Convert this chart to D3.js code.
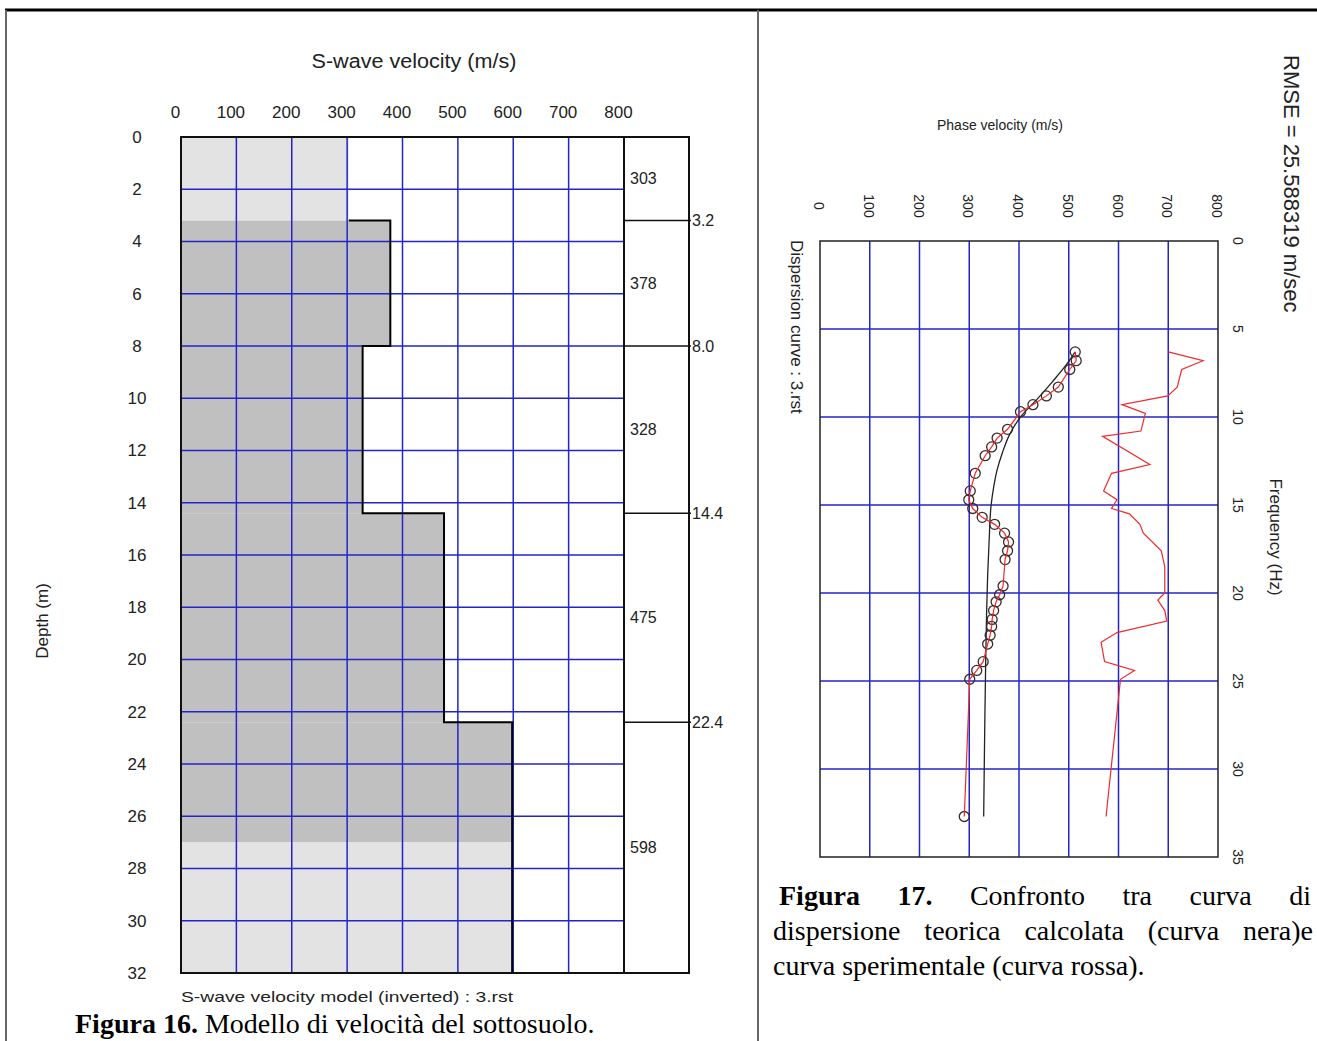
<!DOCTYPE html>
<html>
<head>
<meta charset="utf-8">
<script src="https://cdn.jsdelivr.net/npm/d3@7"></script>
<style>
  body { margin: 0; background: #fff; }
  svg { display: block; }
  .sans { font-family: "Liberation Sans", Arial, sans-serif; fill: #222; }
  .serif { font-family: "Liberation Serif", "Times New Roman", serif; fill: #000; }
</style>
</head>
<body>
<div id="chart"></div>
<script>
// ---------------------------//
//   DATA                     //
// ---------------------------//
// left chart: layered S-wave model
var layerTop = [0, 3.2, 8.0, 14.4, 22.4];
var layerVs = [303, 378, 328, 475, 598];
var maxDepth = 32;
var boundaryLabels = ["3.2", "8.0", "14.4", "22.4"];
var reliableTop = 3.2, reliableBottom = 27.0;   // dark shaded band
var velTicks = [0, 100, 200, 300, 400, 500, 600, 700, 800];
var depthTicks = [0, 2, 4, 6, 8, 10, 12, 14, 16, 18, 20, 22, 24, 26, 28, 30, 32];

// right chart: dispersion curves
var freqTicks = [0, 5, 10, 15, 20, 25, 30, 35];
var phaseTicks = [0, 100, 200, 300, 400, 500, 600, 700, 800];
var expFreq = [6.3, 6.8, 7.3, 8.3, 8.8, 9.3, 9.7, 10.7, 11.2, 11.7, 12.2, 13.2, 14.2, 14.7, 15.2, 15.7, 16.1, 16.6, 17.1, 17.6, 18.1, 19.6, 20.1, 20.5, 21.0, 21.5, 21.9, 22.4, 22.9, 23.9, 24.4, 24.9, 32.7];
var expVel = [513, 515, 502, 479, 455, 428, 403, 377, 356, 345, 332, 312, 302, 299, 307, 326, 351, 371, 379, 377, 372, 368, 361, 354, 349, 346, 345, 342, 337, 328, 315, 301, 290];
var theoFreq = [6.3, 7.0, 8.0, 9.0, 10.0, 11.0, 12.0, 13.0, 14.0, 15.0, 17.0, 19.0, 21.0, 24.0, 28.0, 32.7];
var theoVel = [513, 496, 467, 436, 403, 381, 367, 356, 349, 344, 340, 337, 335, 333, 331, 329];
var thirdFreq = [6.3, 6.8, 7.3, 8.3, 8.8, 9.3, 9.8, 10.8, 11.1, 12.7, 13.2, 14.2, 14.7, 15.2, 15.5, 16.1, 16.6, 17.6, 18.5, 20.0, 20.4, 21.0, 21.6, 22.25, 22.8, 23.9, 24.4, 24.9, 32.7];
var thirdVel = [700, 770, 727, 718, 699, 607, 654, 645, 568, 663, 586, 570, 597, 586, 622, 643, 650, 686, 693, 693, 679, 693, 697, 597, 565, 572, 632, 604, 575];

var gridBlue = "#2424c8";
var redLine = "#ee2a2a";

var svg = d3.select("#chart")
  .append("svg")
  .attr("width", 1317)
  .attr("height", 1041);

// page frame
svg.append("line").attr("x1", 5).attr("x2", 1317).attr("y1", 10).attr("y2", 10)
  .attr("stroke", "#000").attr("stroke-width", 3);
svg.append("line").attr("x1", 6).attr("x2", 6).attr("y1", 10).attr("y2", 1041)
  .attr("stroke", "#666").attr("stroke-width", 2);
svg.append("line").attr("x1", 758).attr("x2", 758).attr("y1", 10).attr("y2", 1041)
  .attr("stroke", "#666").attr("stroke-width", 2);

// ---------------------------//
//   LEFT: VELOCITY MODEL     //
// ---------------------------//
var x = d3.scaleLinear().domain([0, 800]).range([181, 624]);
var y = d3.scaleLinear().domain([0, maxDepth]).range([137, 973]);
var colLeft = 624, colRight = 689;

var left = svg.append("g");

// shading of the profile, one rect per layer and band
var layers = layerTop.map(function (t, i) {
  return { top: t, bottom: i < layerTop.length - 1 ? layerTop[i + 1] : maxDepth, vs: layerVs[i] };
});
var pieces = [];
layers.forEach(function (l) {
  var cuts = [l.top, l.bottom, reliableTop, reliableBottom]
    .filter(function (c) { return c >= l.top && c <= l.bottom; })
    .sort(function (a, b) { return a - b; });
  for (var k = 0; k < cuts.length - 1; k++) {
    if (cuts[k + 1] <= cuts[k]) continue;
    var mid = (cuts[k] + cuts[k + 1]) / 2;
    pieces.push({ top: cuts[k], bottom: cuts[k + 1], vs: l.vs,
      dark: mid > reliableTop && mid < reliableBottom });
  }
});
left.selectAll("rect.layer")
  .data(pieces)
  .enter()
  .append("rect")
  .attr("class", "layer")
  .attr("x", x(0))
  .attr("y", function (d) { return y(d.top); })
  .attr("width", function (d) { return x(d.vs) - x(0); })
  .attr("height", function (d) { return y(d.bottom) - y(d.top); })
  .attr("fill", function (d) { return d.dark ? "#c0c0c0" : "#e3e3e3"; });

// grid
left.selectAll("line.vgrid")
  .data(velTicks.slice(1, -1))
  .enter().append("line")
  .attr("x1", function (d) { return x(d); }).attr("x2", function (d) { return x(d); })
  .attr("y1", y(0)).attr("y2", y(maxDepth))
  .attr("stroke", gridBlue).attr("stroke-width", 1.5);
left.selectAll("line.hgrid")
  .data(depthTicks.slice(1, -1))
  .enter().append("line")
  .attr("x1", x(0)).attr("x2", x(800))
  .attr("y1", function (d) { return y(d); }).attr("y2", function (d) { return y(d); })
  .attr("stroke", gridBlue).attr("stroke-width", 1.5);

// step profile (from the first interface down)
var stepPts = [];
layers.forEach(function (l, i) {
  if (i === 0) { stepPts.push([x(l.vs), y(l.bottom)]); return; }
  stepPts.push([x(l.vs), y(l.top)]);
  stepPts.push([x(l.vs), y(l.bottom)]);
});
left.append("path")
  .attr("d", d3.line()(stepPts))
  .attr("fill", "none")
  .attr("stroke", "#000")
  .attr("stroke-width", 2);

// frames
left.append("rect")
  .attr("x", x(0)).attr("y", y(0))
  .attr("width", x(800) - x(0)).attr("height", y(maxDepth) - y(0))
  .attr("fill", "none").attr("stroke", "#111").attr("stroke-width", 2);
left.append("rect")
  .attr("x", colLeft).attr("y", y(0))
  .attr("width", colRight - colLeft).attr("height", y(maxDepth) - y(0))
  .attr("fill", "none").attr("stroke", "#111").attr("stroke-width", 2);

// layer interfaces in the side column
left.selectAll("line.iface")
  .data(layerTop.slice(1))
  .enter().append("line")
  .attr("x1", colLeft).attr("x2", colRight + 2)
  .attr("y1", function (d) { return y(d); }).attr("y2", function (d) { return y(d); })
  .attr("stroke", "#111").attr("stroke-width", 1.5);
left.selectAll("text.iface")
  .data(layerTop.slice(1))
  .enter().append("text")
  .attr("class", "sans")
  .attr("x", colRight + 3)
  .attr("y", function (d) { return y(d); })
  .attr("dy", "0.35em")
  .style("font-size", "16px")
  .text(function (d, i) { return boundaryLabels[i]; });
left.selectAll("text.vs")
  .data(layers)
  .enter().append("text")
  .attr("class", "sans")
  .attr("x", colLeft + 6)
  .attr("y", function (d) { return y((d.top + d.bottom) / 2); })
  .attr("dy", "0.35em")
  .style("font-size", "16px")
  .text(function (d) { return d.vs; });

// axes
var topAxis = left.append("g")
  .attr("transform", "translate(0," + 112 + ")")
  .call(d3.axisTop(x).tickValues(velTicks).tickSize(0).tickPadding(0));
topAxis.select(".domain").remove();
topAxis.selectAll("text").attr("class", "sans").attr("dy", "0.35em")
  .style("font-size", "17px").attr("x", -6);

var depthAxis = left.append("g")
  .attr("transform", "translate(137,0)")
  .call(d3.axisLeft(y).tickValues(depthTicks).tickSize(0).tickPadding(0));
depthAxis.select(".domain").remove();
depthAxis.selectAll("text").attr("class", "sans")
  .attr("text-anchor", "middle").attr("x", 0)
  .style("font-size", "17px");

left.append("text")
  .attr("class", "sans")
  .attr("x", 414).attr("y", 68)
  .attr("text-anchor", "middle")
  .attr("textLength", 205).attr("lengthAdjust", "spacingAndGlyphs")
  .style("font-size", "20px")
  .text("S-wave velocity (m/s)");
left.append("text")
  .attr("class", "sans")
  .attr("transform", "translate(48,621) rotate(-90)")
  .attr("text-anchor", "middle")
  .style("font-size", "17px")
  .text("Depth (m)");
left.append("text")
  .attr("class", "sans")
  .attr("x", 181).attr("y", 1002)
  .attr("textLength", 332).attr("lengthAdjust", "spacingAndGlyphs")
  .style("font-size", "15px")
  .text("S-wave velocity model (inverted) : 3.rst");

// caption 16
var cap16 = left.append("text")
  .attr("class", "serif")
  .attr("x", 75).attr("y", 1033)
  .style("font-size", "28px");
cap16.append("tspan").style("font-weight", "bold").text("Figura 16.");
cap16.append("tspan").text(" Modello di velocità del sottosuolo.");

// ---------------------------//
//   RIGHT: DISPERSION CURVE  //
// ---------------------------//
var v = d3.scaleLinear().domain([0, 800]).range([820, 1218]);
var f = d3.scaleLinear().domain([0, 35]).range([241, 857]);
var right = svg.append("g");

right.selectAll("line.vgrid")
  .data(phaseTicks.slice(1, -1))
  .enter().append("line")
  .attr("x1", function (d) { return v(d); }).attr("x2", function (d) { return v(d); })
  .attr("y1", f(0)).attr("y2", f(35))
  .attr("stroke", gridBlue).attr("stroke-width", 1.5);
right.selectAll("line.hgrid")
  .data(freqTicks.slice(1, -1))
  .enter().append("line")
  .attr("x1", v(0)).attr("x2", v(800))
  .attr("y1", function (d) { return f(d); }).attr("y2", function (d) { return f(d); })
  .attr("stroke", gridBlue).attr("stroke-width", 1.5);
right.append("rect")
  .attr("x", v(0)).attr("y", f(0))
  .attr("width", v(800) - v(0)).attr("height", f(35) - f(0))
  .attr("fill", "none").attr("stroke", "#222").attr("stroke-width", 1.5);

var lineVF = d3.line()
  .x(function (d) { return v(d[1]); })
  .y(function (d) { return f(d[0]); });

var thirdData = thirdFreq.map(function (d, i) { return [d, thirdVel[i]]; });
var theoData = theoFreq.map(function (d, i) { return [d, theoVel[i]]; });
var expData = expFreq.map(function (d, i) { return [d, expVel[i]]; });

right.append("path")
  .attr("d", lineVF(thirdData))
  .attr("fill", "none").attr("stroke", redLine).attr("stroke-width", 1.2);

right.append("path")
  .attr("d", lineVF.curve(d3.curveMonotoneY)(theoData))
  .attr("fill", "none").attr("stroke", "#222").attr("stroke-width", 1.3);
lineVF.curve(d3.curveLinear);

right.selectAll("circle.exp")
  .data(expData)
  .enter().append("circle")
  .attr("cx", function (d) { return v(d[1]); })
  .attr("cy", function (d) { return f(d[0]); })
  .attr("r", 5)
  .attr("fill", "none")
  .attr("stroke", "#3a2a2a")
  .attr("stroke-width", 1.3);
right.append("path")
  .attr("d", lineVF(expData))
  .attr("fill", "none").attr("stroke", redLine).attr("stroke-width", 1.2);

// rotated tick labels
right.selectAll("text.vtick")
  .data(phaseTicks)
  .enter().append("text")
  .attr("class", "sans")
  .attr("transform", function (d) { return "translate(" + (v(d) - 6) + ",206) rotate(90)"; })
  .attr("text-anchor", "middle")
  .style("font-size", "14px")
  .text(function (d) { return d; });
right.selectAll("text.ftick")
  .data(freqTicks)
  .enter().append("text")
  .attr("class", "sans")
  .attr("transform", function (d) { return "translate(1233," + f(d) + ") rotate(90)"; })
  .attr("text-anchor", "middle")
  .style("font-size", "14px")
  .text(function (d) { return d; });

right.append("text")
  .attr("class", "sans")
  .attr("x", 1000).attr("y", 130)
  .attr("text-anchor", "middle")
  .style("font-size", "14px")
  .text("Phase velocity (m/s)");
right.append("text")
  .attr("class", "sans")
  .attr("transform", "translate(1270,537) rotate(90)")
  .attr("text-anchor", "middle")
  .style("font-size", "17px")
  .text("Frequency (Hz)");
right.append("text")
  .attr("class", "sans")
  .attr("transform", "translate(1284,55) rotate(90)")
  .style("font-size", "22px")
  .text("RMSE = 25.588319 m/sec");
right.append("text")
  .attr("class", "sans")
  .attr("transform", "translate(791,240) rotate(90)")
  .style("font-size", "17px")
  .text("Dispersion curve : 3.rst");

// caption 17, justified lines
function justifyLine(words, boldCount, x0, x1, yb) {
  var g = right.append("g");
  var nodes = words.map(function (w, i) {
    return g.append("text")
      .attr("class", "serif")
      .attr("y", yb)
      .style("font-size", "28px")
      .style("font-weight", i < boldCount ? "bold" : "normal")
      .text(w);
  });
  var widths = nodes.map(function (n) { return n.node().getComputedTextLength(); });
  var gap = (x1 - x0 - d3.sum(widths)) / (words.length - 1);
  var cx = x0;
  nodes.forEach(function (n, i) { n.attr("x", cx); cx += widths[i] + gap; });
}
justifyLine(["Figura", "17.", "Confronto", "tra", "curva", "di"], 2, 779, 1311, 905);
justifyLine(["dispersione", "teorica", "calcolata", "(curva", "nera)e"], 0, 773, 1313, 940);
right.append("text")
  .attr("class", "serif")
  .attr("x", 773).attr("y", 975)
  .style("font-size", "28px")
  .text("curva sperimentale (curva rossa).");
</script>
</body>
</html>
